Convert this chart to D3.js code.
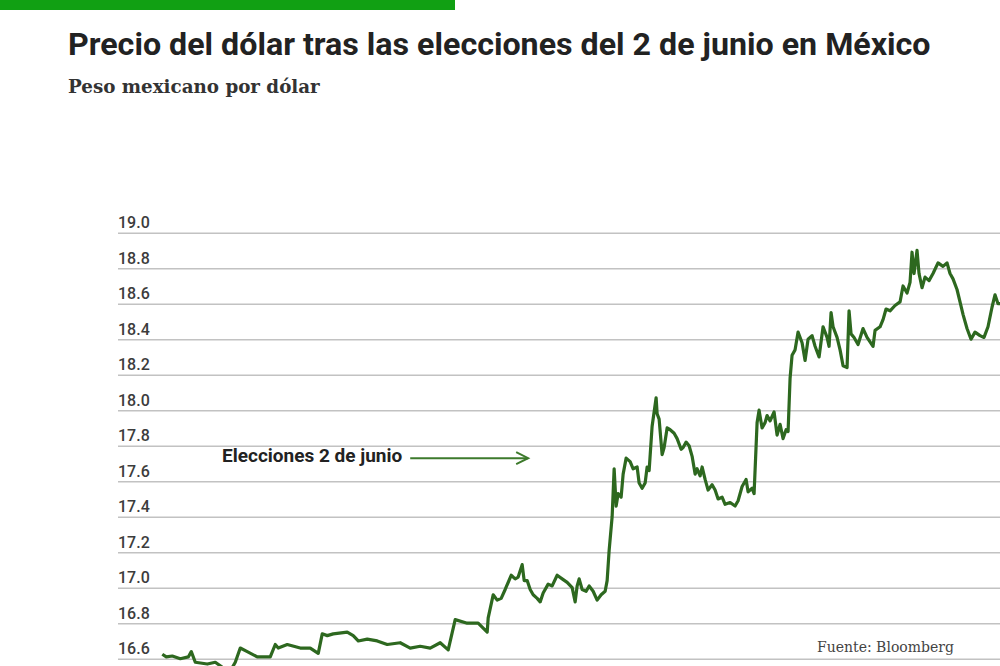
<!DOCTYPE html>
<html><head><meta charset="utf-8">
<script src="https://cdn.jsdelivr.net/npm/d3@7"></script>
<style>
html,body{margin:0;padding:0;background:#fff;overflow:hidden;}
svg{display:block;}
</style></head>
<body>
<svg id="chart" width="1000" height="666"></svg>
<script>
const title = "Precio del dólar tras las elecciones del 2 de junio en México";
const subtitle = "Peso mexicano por dólar";
const source = "Fuente: Bloomberg";
const annotation = "Elecciones 2 de junio";
const yTicks = [16.6,16.8,17.0,17.2,17.4,17.6,17.8,18.0,18.2,18.4,18.6,18.8,19.0];
const sessions = [
  0,4,10,18,26,29,33,45,53,58,63,70,73,78,85,95,108,113,116,125,
  138,148,156,160,165,171,185,191,196,205,215,225,238,248,258,268,278,286,293,305,
  316,325,326,331,335,339,343,349,353,356,360,362,365,368,371,375,378,381,386,390,
  395,400,405,410,413,415,417,420,424,427,431,435,439,443,445,447,450,452,454,456,
  459,461,464,468,471,475,477,480,483,485,487,490,491,494,495,497,500,502,505,508,
  512,515,519,521,524,527,530,533,535,538,540,543,546,550,553,556,560,563,568,573,
  576,580,584,586,590,592,595,597,600,603,605,608,612,615,618,621,624,626,628,630,
  633,636,640,643,646,650,653,657,661,665,667,669,671,675,678,681,685,687,689,692,
  696,701,705,711,713,718,721,724,728,733,738,741,745,748,750,752,755,757,760,763,
  767,771,776,781,785,788,791,795,798,801,805,809,813,818,822,826,830,833,836,843];
const rates = [
  16.625,16.61,16.615,16.60,16.61,16.64,16.58,16.57,16.58,16.56,16.54,16.55,16.58,16.66,16.64,16.61,16.61,16.68,16.66,16.68,
  16.66,16.66,16.63,16.74,16.73,16.74,16.75,16.73,16.70,16.71,16.70,16.68,16.69,16.66,16.67,16.66,16.69,16.65,16.82,16.80,
  16.80,16.75,16.83,16.96,16.93,16.94,16.99,17.07,17.05,17.06,17.13,17.04,17.04,16.99,16.96,16.94,16.92,16.97,17.02,17.01,
  17.07,17.05,17.03,17.00,16.92,17.01,17.05,16.99,16.98,17.01,16.98,16.93,16.96,16.98,17.04,17.21,17.40,17.67,17.46,17.53,
  17.51,17.64,17.73,17.71,17.67,17.68,17.59,17.56,17.59,17.68,17.66,17.91,17.95,18.07,17.98,17.95,17.75,17.79,17.90,17.89,
  17.87,17.84,17.78,17.79,17.82,17.80,17.74,17.64,17.67,17.63,17.68,17.61,17.55,17.58,17.55,17.50,17.51,17.47,17.48,17.46,
  17.49,17.57,17.61,17.54,17.56,17.53,17.93,18.00,17.90,17.93,17.97,17.94,17.99,17.86,17.92,17.84,17.89,17.88,18.18,18.31,
  18.34,18.44,18.38,18.28,18.40,18.42,18.36,18.30,18.47,18.41,18.36,18.55,18.47,18.41,18.34,18.25,18.24,18.56,18.43,18.41,
  18.37,18.46,18.41,18.36,18.45,18.47,18.51,18.57,18.56,18.59,18.61,18.70,18.66,18.72,18.89,18.77,18.90,18.77,18.69,18.75,
  18.73,18.77,18.83,18.81,18.83,18.77,18.74,18.68,18.61,18.54,18.46,18.40,18.44,18.42,18.41,18.47,18.58,18.65,18.60,18.60];
const arrowSessions = [248, 366]; // annotation arrow start/end (session units)
const arrowRate = 17.73;

const data = sessions.map((s,i)=>({s, v: rates[i]})).filter(d=>d.v!==undefined);
const svg = d3.select("#chart");

// top green bar
svg.append("rect").attr("x",0).attr("y",0).attr("width",455).attr("height",10).attr("fill","#11a013");

svg.append("text").attr("x",68).attr("y",55)
  .attr("font-family","Roboto").attr("font-weight",700).attr("font-size",32.2)
  .attr("fill","#222").text(title);
svg.append("text").attr("x",68).attr("y",93)
  .attr("font-family","DejaVu Serif").attr("font-weight",700).attr("font-size",18.3)
  .attr("fill","#333").text(subtitle);

const x = d3.scaleLinear().domain([0,843]).range([162.3,1005]);
const y = d3.scaleLinear().domain([16.6,19.0]).range([658.7,232.7]);

const yAxis = d3.axisLeft(y).tickValues(yTicks).tickSize(0).tickFormat(d3.format(".1f"));
const gAx = svg.append("g").attr("transform","translate(118,0)").call(yAxis);
gAx.select(".domain").remove();
gAx.selectAll(".tick").each(function(d){
  const t = d3.select(this);
  t.append("line").attr("x1",0).attr("x2",900).attr("y1",0).attr("y2",0)
   .attr("stroke","#c2c2c2").attr("stroke-width",1.5);
  t.select("text").attr("x",0).attr("dy",null).attr("y",-5)
   .attr("text-anchor","start").attr("font-family","Roboto").attr("font-weight",500)
   .attr("font-size",16).attr("fill","#3c3c3c");
});

// source
svg.append("text").attr("x",817).attr("y",651.5)
  .attr("font-family","DejaVu Serif").attr("font-size",14).attr("fill","#444").text(source);

// line
const line = d3.line().x(d=>x(d.s)).y(d=>y(d.v));
svg.append("path").datum(data).attr("d",line).attr("fill","none")
  .attr("stroke","#2d681f").attr("stroke-width",3.2).attr("stroke-linejoin","round");

// annotation
svg.append("text").attr("x",222).attr("y",461.5)
  .attr("font-family","Roboto").attr("font-weight",700)
  .attr("font-size",19).attr("fill","#222").text(annotation);
const ay = y(arrowRate);
const ax1 = x(arrowSessions[0]), ax2 = x(arrowSessions[1]);
svg.append("line").attr("x1",ax1).attr("x2",ax2).attr("y1",ay).attr("y2",ay)
  .attr("stroke","#3d7a2c").attr("stroke-width",2);
svg.append("path").attr("d",`M${ax2-12},${ay-6}L${ax2},${ay}L${ax2-12},${ay+6}`)
  .attr("fill","none").attr("stroke","#3d7a2c").attr("stroke-width",2);
</script>
</body></html>
